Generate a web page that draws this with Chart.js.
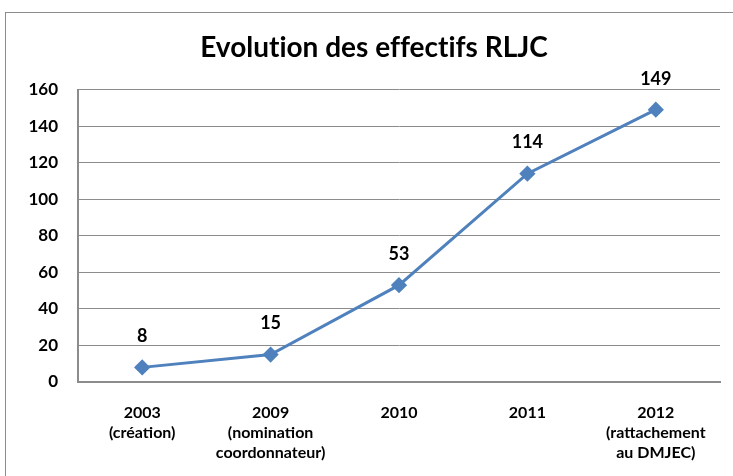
<!DOCTYPE html>
<html>
<head>
<meta charset="utf-8">
<script src="https://cdn.jsdelivr.net/npm/chart.js@4/dist/chart.umd.min.js"></script>
<style>
  body { margin: 0; background: #fff; }
  #wrap { position: relative; width: 733px; height: 476px; overflow: hidden; }
  #frame { position: absolute; left: 5px; top: 12px; width: 800px; height: 600px; border: 1px solid #8c8c8c; }
  canvas { position: absolute; left: 0; top: 0; }
</style>
</head>
<body>
<div id="wrap">
  <div id="frame"></div>
  <canvas id="graph" width="733" height="476"></canvas>
</div>
<script>
var ctx = document.getElementById('graph').getContext('2d');

const labels = [
    ["2003", "(création)"],
    ["2009", "(nomination", "coordonnateur)"],
    ["2010"],
    ["2011"],
    ["2012", "(rattachement", "au DMJEC)"]
];
const effectifs = [8, 15, 53, 114, 149];
const yTicks = [0, 20, 40, 60, 80, 100, 120, 140, 160];

const fontFamily = "Lato, 'Open Sans', sans-serif";

// value labels above each point
const valueLabels = {
    id: 'valueLabels',
    afterDatasetsDraw(chart) {
        var c = chart.ctx;
        var meta = chart.getDatasetMeta(0);
        c.save();
        c.font = "bold 18px " + fontFamily;
        c.fillStyle = '#000';
        c.textAlign = 'center';
        c.textBaseline = 'middle';
        meta.data.forEach(function (pt, i) {
            c.fillText(String(effectifs[i]), pt.x, pt.y - 31);
        });
        c.restore();
    }
};

var myGraph = new Chart(ctx, {
    type: 'line',
    data: {
        labels: labels,
        datasets: [{
            label: 'Effectifs',
            data: effectifs,
            borderColor: '#4F81BD',
            backgroundColor: '#4F81BD',
            borderWidth: 3,
            pointStyle: 'rectRot',
            pointRadius: 6,
            pointHoverRadius: 6,
            tension: 0
        }]
    },
    options: {
        responsive: false,
        animation: false,
        plugins: {
            title: {
                display: true,
                // zero-width non-joiners keep Lato from making "ti"/"ff" ligatures
                text: 'Evolut\u200Cion des ef\u200Cfect\u200Cifs RLJC',
                color: '#000',
                font: { family: fontFamily, size: 28, weight: 'bold' },
                padding: { top: 31, bottom: 25 }
            },
            legend: { display: false },
            tooltip: { enabled: false }
        },
        layout: {
            padding: { left: 28, right: 13, top: 0, bottom: 0 }
        },
        scales: {
            y: {
                min: 0,
                max: 160,
                afterBuildTicks: function (scale) {
                    scale.ticks = yTicks.map(function (v) { return { value: v }; });
                },
                afterFit: function (scale) { scale.width = 50; },
                ticks: {
                    color: '#000',
                    padding: 20,
                    font: { family: fontFamily, size: 17, weight: 'bold' }
                },
                grid: {
                    color: '#8c8c8c',
                    drawTicks: false
                },
                border: { display: true, color: '#8c8c8c', width: 2 }
            },
            x: {
                offset: true,
                afterFit: function (scale) { scale.height = 94; },
                ticks: {
                    color: '#000',
                    padding: 21,
                    maxRotation: 0,
                    autoSkip: false,
                    font: { family: fontFamily, size: 16, weight: 'bold', lineHeight: 1.25 }
                },
                grid: { display: false, drawTicks: false, offset: true },
                border: { display: true, color: '#8c8c8c', width: 2 }
            }
        }
    },
    plugins: [valueLabels]
});
</script>
</body>
</html>
